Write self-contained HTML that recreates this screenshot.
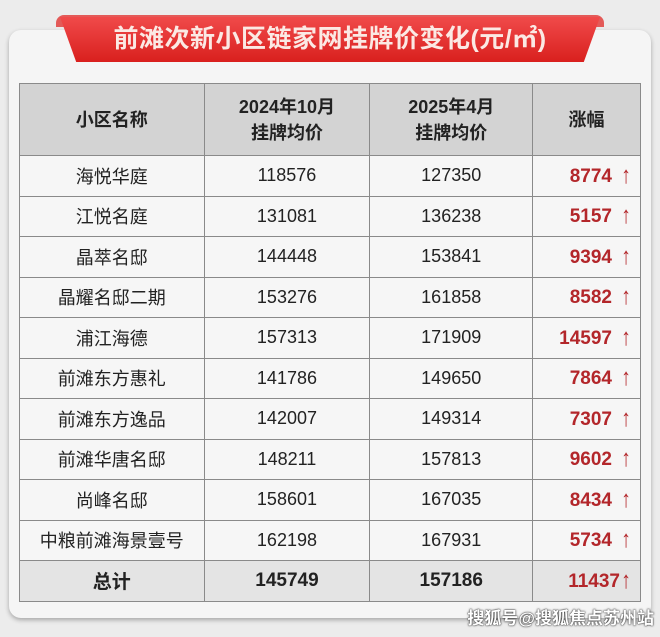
<!DOCTYPE html>
<html><head><meta charset="utf-8"><style>
body{margin:0;width:660px;height:637px;background:#ececec;position:relative;overflow:hidden;font-family:"Liberation Sans","Noto Sans CJK SC",sans-serif}
.card{position:absolute;left:9px;top:30px;width:642px;height:588px;background:#f5f5f5;border-radius:12px;box-shadow:0 2px 5px rgba(0,0,0,.3)}
.banner{position:absolute;left:60px;top:17px;width:540px;height:45px;background:linear-gradient(#f04a4a,#d9201e);clip-path:polygon(0 0,100% 0,97% 100%,3% 100%);color:#fbe9e4;font-size:25px;font-weight:bold;text-align:center;line-height:44px;letter-spacing:0.5px}
.bshadow{position:absolute;left:56px;top:15px;width:548px;height:12px;background:#e35a58;border-radius:8px 8px 0 0}
table{position:absolute;left:19px;top:83px;border-collapse:collapse;width:622px;font-size:18px;color:#222}
td{border:1px solid #8a8a8a;text-align:center;height:39.5px;padding:0;background:#f6f6f6}
tr.h td{background:#d3d3d3;height:71px;font-weight:bold;line-height:26px;font-size:18px}
tr.t td{background:#e4e4e4;font-weight:bold;font-size:19px}
td.r{color:#b3262a;font-weight:bold;text-align:right;padding-right:8px;font-size:19px}
.ar{font-weight:bold;margin-left:8px;font-size:24px;display:inline-block;transform:scaleX(0.8);vertical-align:-1px}
.wm{position:absolute;right:6px;top:604px;color:#fff;font-size:17px;font-weight:bold;text-shadow:0 0 2px #333,0 0 1px #000}
</style></head><body>
<div class="card"></div>
<div class="bshadow"></div>
<div class="banner">前滩次新小区链家网挂牌价变化(元/㎡)</div>
<table>
<colgroup><col style="width:185px"><col style="width:166px"><col style="width:163px"><col style="width:108px"></colgroup>
<tr class="h"><td>小区名称</td><td>2024年10月<br>挂牌均价</td><td>2025年4月<br>挂牌均价</td><td>涨幅</td></tr>
<tr><td>海悦华庭</td><td>118576</td><td>127350</td><td class="r">8774<span class="ar">↑</span></td></tr>
<tr><td>江悦名庭</td><td>131081</td><td>136238</td><td class="r">5157<span class="ar">↑</span></td></tr>
<tr><td>晶萃名邸</td><td>144448</td><td>153841</td><td class="r">9394<span class="ar">↑</span></td></tr>
<tr><td>晶耀名邸二期</td><td>153276</td><td>161858</td><td class="r">8582<span class="ar">↑</span></td></tr>
<tr><td>浦江海德</td><td>157313</td><td>171909</td><td class="r">14597<span class="ar">↑</span></td></tr>
<tr><td>前滩东方惠礼</td><td>141786</td><td>149650</td><td class="r">7864<span class="ar">↑</span></td></tr>
<tr><td>前滩东方逸品</td><td>142007</td><td>149314</td><td class="r">7307<span class="ar">↑</span></td></tr>
<tr><td>前滩华唐名邸</td><td>148211</td><td>157813</td><td class="r">9602<span class="ar">↑</span></td></tr>
<tr><td>尚峰名邸</td><td>158601</td><td>167035</td><td class="r">8434<span class="ar">↑</span></td></tr>
<tr><td>中粮前滩海景壹号</td><td>162198</td><td>167931</td><td class="r">5734<span class="ar">↑</span></td></tr>
<tr class="t"><td>总计</td><td>145749</td><td>157186</td><td class="r">11437<span class="ar" style="margin-left:0">↑</span></td></tr>
</table>
<div class="wm">搜狐号@搜狐焦点苏州站</div>
</body></html>
